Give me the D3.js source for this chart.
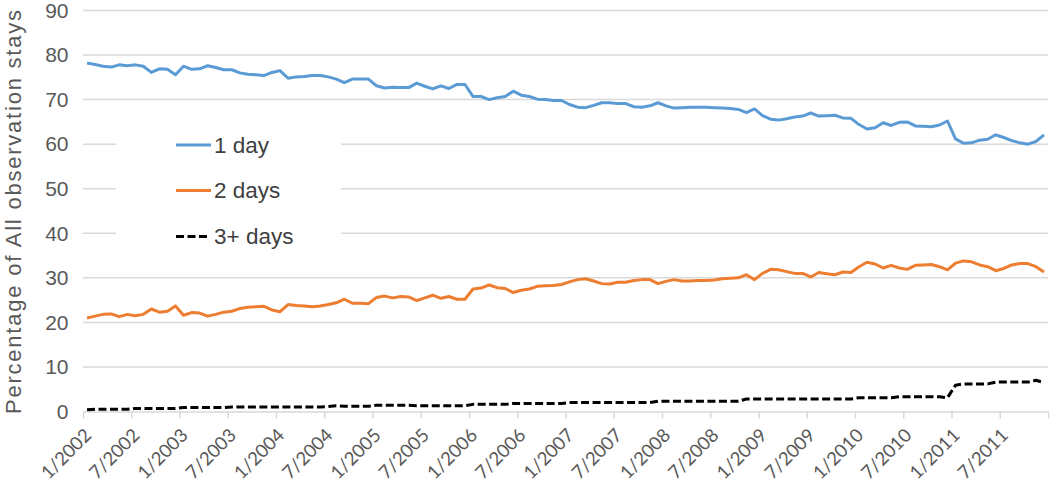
<!DOCTYPE html>
<html>
<head>
<meta charset="utf-8">
<script src="https://cdn.jsdelivr.net/npm/d3@7"></script>
<style>
  html, body { margin: 0; padding: 0; background: #ffffff; }
  svg { display: block; }
</style>
</head>
<body>
<svg id="chart" width="1050" height="482"></svg>
<script>
// ---------------- DATA ----------------
const categories = [];
for (let yr = 2002; yr <= 2011; yr++) for (let m = 1; m <= 12; m++) categories.push(m + "/" + yr);

const tickLabels = ["1/2002","7/2002","1/2003","7/2003","1/2004","7/2004","1/2005","7/2005","1/2006","7/2006",
                    "1/2007","7/2007","1/2008","7/2008","1/2009","7/2009","1/2010","7/2010","1/2011","7/2011"];

const yTicks = [0, 10, 20, 30, 40, 50, 60, 70, 80, 90];

const seriesNames = ["1 day", "2 days", "3+ days"];

const oneDay = [
  78.2, 77.9, 77.5, 77.3, 77.8, 77.6, 77.8, 77.5, 76.1, 76.9, 76.8, 75.6,
  77.5, 76.8, 76.9, 77.6, 77.2, 76.7, 76.7, 76.0, 75.7, 75.6, 75.4, 76.1,
  76.5, 74.8, 75.1, 75.2, 75.4, 75.4, 75.1, 74.6, 73.8, 74.6, 74.6, 74.6,
  73.1, 72.6, 72.8, 72.7, 72.7, 73.7, 73.0, 72.4, 73.1, 72.5, 73.4, 73.4,
  70.7, 70.7, 70.0, 70.4, 70.7, 71.9, 71.0, 70.7, 70.1, 70.0, 69.8, 69.8,
  68.9, 68.3, 68.2, 68.7, 69.3, 69.3, 69.1, 69.1, 68.4, 68.3, 68.6, 69.3,
  68.6, 68.1, 68.2, 68.3, 68.3, 68.3, 68.2, 68.1, 68.0, 67.8, 67.1, 67.9,
  66.4, 65.6, 65.4, 65.7, 66.1, 66.3, 67.0, 66.3, 66.4, 66.5, 65.9, 65.8,
  64.4, 63.4, 63.7, 64.8, 64.2, 64.9, 65.0, 64.1, 64.0, 63.9, 64.3, 65.2,
  61.2, 60.2, 60.3, 60.9, 61.1, 62.1, 61.5, 60.8, 60.3, 60.0, 60.6, 62.1
];

const twoDays = [
  21.0, 21.4, 21.8, 21.9, 21.3, 21.8, 21.5, 21.8, 23.0, 22.3, 22.5, 23.7,
  21.6, 22.2, 22.1, 21.4, 21.8, 22.3, 22.5, 23.1, 23.4, 23.5, 23.6, 22.8,
  22.4, 24.0, 23.8, 23.7, 23.5, 23.7, 24.0, 24.4, 25.2, 24.3, 24.3, 24.2,
  25.6, 25.9, 25.5, 25.8, 25.7, 24.9, 25.5, 26.1, 25.4, 25.8, 25.2, 25.2,
  27.5, 27.7, 28.4, 27.8, 27.6, 26.7, 27.2, 27.5, 28.1, 28.2, 28.3, 28.5,
  29.1, 29.6, 29.8, 29.3, 28.7, 28.6, 29.0, 29.0, 29.4, 29.6, 29.6, 28.7,
  29.2, 29.6, 29.3, 29.3, 29.4, 29.4, 29.5, 29.8, 29.9, 30.0, 30.7, 29.6,
  31.0, 31.9, 31.8, 31.4, 31.0, 31.0, 30.2, 31.2, 30.9, 30.7, 31.3, 31.2,
  32.5, 33.5, 33.1, 32.2, 32.8, 32.2, 31.9, 32.8, 32.9, 33.0, 32.5, 31.8,
  33.3, 33.8, 33.6, 32.9, 32.5, 31.6, 32.1, 32.9, 33.2, 33.2, 32.5, 31.3
];

const threePlus = [
  0.4, 0.5, 0.5, 0.5, 0.5, 0.5, 0.7, 0.7, 0.7, 0.7, 0.7, 0.7,
  0.9, 0.9, 0.9, 0.9, 0.9, 0.9, 1.0, 1.0, 1.0, 1.0, 1.0, 1.0,
  1.0, 1.0, 1.0, 1.0, 1.0, 1.0, 1.1, 1.3, 1.2, 1.2, 1.2, 1.2,
  1.4, 1.4, 1.4, 1.4, 1.4, 1.3, 1.3, 1.3, 1.3, 1.3, 1.3, 1.3,
  1.6, 1.6, 1.6, 1.6, 1.6, 1.8, 1.8, 1.8, 1.8, 1.8, 1.8, 1.8,
  2.0, 2.0, 2.0, 2.0, 2.0, 2.0, 2.0, 2.0, 2.0, 2.0, 2.0, 2.3,
  2.3, 2.3, 2.3, 2.3, 2.3, 2.3, 2.3, 2.3, 2.3, 2.3, 2.8, 2.8,
  2.8, 2.8, 2.8, 2.8, 2.8, 2.8, 2.8, 2.8, 2.8, 2.8, 2.8, 2.8,
  3.1, 3.1, 3.1, 3.1, 3.1, 3.3, 3.3, 3.3, 3.3, 3.3, 3.3, 3.1,
  5.9, 6.2, 6.2, 6.2, 6.2, 6.6, 6.6, 6.6, 6.6, 6.6, 7.0, 6.5
];

// ---------------- CHART ----------------
const svg = d3.select("#chart");
const plotL = 83, plotR = 1048, plotT = 10.5, plotB = 411.5;

const x = d3.scaleLinear().domain([0, categories.length]).range([plotL, plotR]);
const y = d3.scaleLinear().domain([0, 90]).range([plotB, plotT]);

const gridColor = "#d9d9d9";
const textColor = "#595959";

// gridlines
svg.append("g").selectAll("line")
  .data(yTicks.filter(v => v > 0))
  .join("line")
  .attr("x1", plotL).attr("x2", plotR)
  .attr("y1", d => y(d)).attr("y2", d => y(d))
  .attr("stroke", gridColor).attr("stroke-width", 1.5);

// y axis labels
const yAxis = svg.append("g")
  .attr("transform", "translate(68.5,0)")
  .call(d3.axisLeft(y).tickValues(yTicks).tickSize(0).tickPadding(0).tickFormat(d3.format("d")));
yAxis.select(".domain").remove();
yAxis.selectAll("text")
  .attr("font-family", "'Liberation Sans', Arial, sans-serif")
  .attr("font-size", 21)
  .attr("fill", textColor);

// x axis
const xTickVals = d3.range(0, categories.length + 1, 6);
const xAxis = svg.append("g")
  .attr("transform", `translate(0,${plotB})`)
  .call(d3.axisBottom(x).tickValues(xTickVals).tickSize(7).tickSizeOuter(0)
        .tickFormat((d, i) => i < tickLabels.length ? tickLabels[i] : ""));
xAxis.select(".domain").attr("stroke", gridColor).attr("stroke-width", 1.5);
xAxis.selectAll(".tick line").attr("stroke", gridColor).attr("stroke-width", 1.5);
xAxis.selectAll("text")
  .attr("font-family", "Lato, 'Open Sans', sans-serif")
  .attr("font-size", 18.5)
  .attr("fill", textColor)
  .attr("text-anchor", "end")
  .attr("y", null).attr("dy", null)
  .attr("transform", "translate(9,25) rotate(-45)");

// y title
svg.append("text")
  .attr("transform", "translate(20.5,212) rotate(-90)")
  .attr("text-anchor", "middle")
  .attr("font-family", "'Liberation Sans', Arial, sans-serif")
  .attr("font-size", 22)
  .attr("fill", textColor)
  .attr("textLength", 404)
  .attr("lengthAdjust", "spacing")
  .text("Percentage of All observation stays");

// series lines
const line = d3.line().x((d, i) => x(i + 0.5)).y(d => y(d));
const seriesData = [
  { name: seriesNames[0], values: oneDay, color: "#5b9bd5", dash: null },
  { name: seriesNames[1], values: twoDays, color: "#ed7d31", dash: null },
  { name: seriesNames[2], values: threePlus, color: "#000000", dash: "8,3.5" }
];

svg.append("g").selectAll("path")
  .data(seriesData)
  .join("path")
  .attr("d", d => line(d.values))
  .attr("fill", "none")
  .attr("stroke", d => d.color)
  .attr("stroke-width", 3)
  .attr("stroke-linejoin", "round")
  .attr("stroke-dasharray", d => d.dash);

// legend
const legend = svg.append("g");
legend.append("rect")
  .attr("x", 116).attr("y", 122).attr("width", 225).attr("height", 136)
  .attr("fill", "#ffffff");
const legendY = [145, 190.5, 236.5];
const li = legend.selectAll("g.item").data(seriesData).join("g")
  .attr("class", "item")
  .attr("transform", (d, i) => `translate(0,${legendY[i]})`);
li.append("line")
  .attr("x1", 176).attr("x2", d => d.dash ? 207 : 211)
  .attr("y1", 0).attr("y2", 0)
  .attr("stroke", d => d.color)
  .attr("stroke-width", 3)
  .attr("stroke-dasharray", d => d.dash);
li.append("text")
  .attr("x", 214).attr("y", 0).attr("dy", "0.35em")
  .attr("font-family", "'Liberation Sans', Arial, sans-serif")
  .attr("font-size", 22.5)
  .attr("fill", "#404040")
  .text(d => d.name);
</script>
</body>
</html>
